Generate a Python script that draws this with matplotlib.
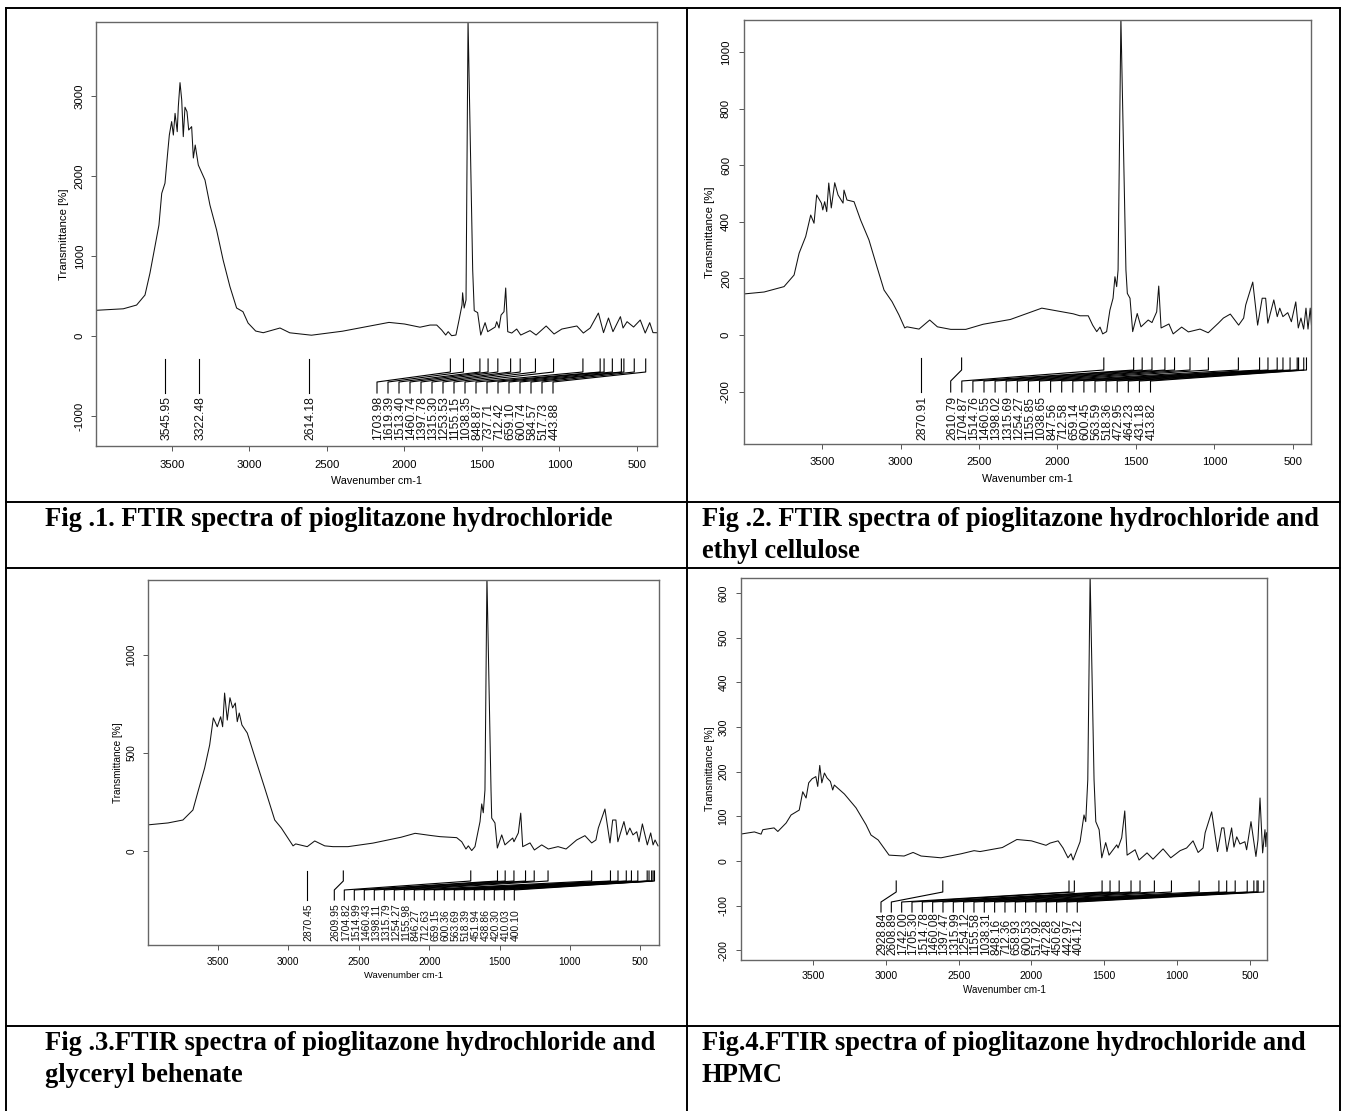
import matplotlib
matplotlib.use('Agg')
import matplotlib.pyplot as plt
from matplotlib.lines import Line2D

W, H = 1345, 1111

# spectra: wavenumber, transmittance
wave1 = [4000,3814,3728,3674,3642,3610,3584,3566,3545,3528,3517,3502,3491,3480,3466,3459,3448,3437,3427,3416,3403,3392,3373,3362,3350,3330,3287,3255,3212,3170,3126,3083,3042,3009,2960,2911,2803,2740,2600,2400,2100,2000,1900,1835,1792,1760,1734,1718,1696,1668,1648,1629,1625,1615,1603,1590,1560,1550,1528,1508,1480,1463,1415,1405,1390,1377,1358,1347,1334,1308,1276,1250,1190,1151,1086,1035,985,888,846,802,749,716,684,655,607,590,564,522,479,447,418,397,372]
trans1 = [320,340,387,512,785,1116,1387,1783,1910,2283,2512,2680,2512,2783,2554,2867,3167,2950,2492,2860,2804,2575,2617,2225,2387,2137,1950,1637,1325,950,617,350,304,162,62,41,100,40,10,60,170,150,110,137,137,75,12,54,4,12,200,387,540,350,450,3950,825,317,292,12,167,54,112,179,100,262,304,600,54,37,87,12,67,12,125,25,87,125,37,100,287,42,225,54,242,100,179,112,200,37,167,42,41]

wave2 = [4000,3869,3742,3678,3646,3604,3572,3551,3534,3504,3495,3483,3470,3457,3441,3419,3398,3366,3360,3341,3296,3254,3201,3150,3105,3054,3010,2973,2959,2882,2814,2765,2680,2584,2474,2300,2100,2000,1900,1857,1804,1776,1750,1729,1712,1687,1666,1646,1634,1623,1614,1596,1564,1555,1538,1521,1492,1468,1422,1398,1368,1355,1340,1315,1290,1263,1209,1166,1092,1040,975,943,899,846,814,801,756,725,696,674,660,622,600,584,564,533,510,482,466,449,432,417,404,390,379]
trans2 = [145,152,171,212,289,348,424,395,495,466,442,471,436,537,449,538,495,466,512,477,471,406,336,241,159,118,71,25,29,21,53,29,20,20,38,55,95,85,75,68,68,35,12,28,4,12,88,130,206,171,230,1120,230,147,130,12,76,29,53,44,82,173,25,32,39,4,28,11,21,8,42,60,74,35,60,106,187,35,130,130,42,124,65,95,65,79,47,117,25,60,21,95,21,95,12]

wave3 = [4000,3855,3749,3678,3642,3595,3559,3533,3505,3481,3467,3453,3434,3415,3396,3377,3363,3349,3330,3292,3239,3168,3097,3050,2967,2948,2866,2813,2742,2683,2577,2400,2200,2100,2000,1923,1805,1769,1739,1722,1698,1675,1639,1627,1616,1604,1590,1561,1556,1533,1516,1485,1462,1407,1398,1367,1350,1336,1284,1253,1201,1154,1085,1028,953,894,846,816,799,752,716,697,674,660,617,596,575,553,526,510,486,451,427,410,396,375]
trans3 = [133,143,158,209,303,423,541,679,634,685,634,806,668,782,730,755,660,704,643,602,481,321,158,117,26,36,22,51,26,22,22,40,70,90,80,73,68,47,10,26,2,22,150,240,195,311,1400,311,168,143,15,82,31,66,47,92,193,22,41,5,31,10,22,10,56,78,41,56,117,214,41,158,158,47,150,82,117,82,98,47,138,31,92,31,56,26]

wave4 = [4000,3903,3857,3845,3768,3742,3685,3651,3595,3571,3548,3530,3507,3481,3468,3454,3440,3422,3404,3381,3365,3354,3285,3205,3136,3102,3053,2978,2875,2813,2758,2621,2483,2394,2353,2200,2100,2000,1900,1872,1817,1783,1749,1728,1714,1666,1639,1627,1613,1597,1570,1558,1535,1517,1490,1467,1414,1405,1380,1359,1343,1288,1261,1206,1165,1096,1043,979,934,890,855,821,807,762,722,693,678,657,625,609,590,568,534,522,492,458,444,430,412,396,390,385]
trans4 = [60,65,60,70,74,66,85,103,114,155,141,175,184,189,167,214,175,197,186,178,159,170,150,119,81,58,47,13,11,19,11,7,16,23,21,30,48,45,35,40,45,29,7,16,2,43,103,88,182,640,182,88,70,7,41,13,36,29,52,112,13,25,2,18,4,27,7,23,29,45,19,29,63,110,21,74,74,21,74,31,54,38,43,25,88,10,47,141,18,70,32,63]

# peak picks, in the order they are labelled
singles1 = [3545.95, 3322.48, 2614.18]
peaks1 = [1703.98,1619.39,1513.40,1460.74,1397.78,1315.30,1253.53,1155.15,1038.35,848.87,737.71,712.42,659.10,600.74,584.57,517.73,443.88]
labels1 = ['1703.98','1619.39','1513.40','1460.74','1397.78','1315.30','1253.53','1155.15','1038.35','848.87','737.71','712.42','659.10','600.74','584.57','517.73','443.88']

singles2 = [2870.91]
peaks2 = [2610.79,1704.87,1514.76,1460.55,1398.02,1315.69,1254.27,1155.85,1038.65,847.56,712.58,659.14,600.45,563.59,518.36,472.95,464.23,431.18,413.82]
labels2 = ['2610.79','1704.87','1514.76','1460.55','1398.02','1315.69','1254.27','1155.85','1038.65','847.56','712.58','659.14','600.45','563.59','518.36','472.95','464.23','431.18','413.82']

singles3 = [2870.45]
peaks3 = [2609.95,1704.82,1514.99,1460.43,1398.11,1315.79,1254.27,1155.98,846.27,712.63,659.15,600.36,563.69,518.39,451.94,438.86,420.30,410.03,400.10]
labels3 = ['2609.95','1704.82','1514.99','1460.43','1398.11','1315.79','1254.27','1155.98','846.27','712.63','659.15','600.36','563.69','518.39','451.94','438.86','420.30','410.03','400.10']

singles4 = []
peaks4 = [2928.84,2608.89,1742.00,1705.30,1514.78,1460.08,1397.47,1315.99,1254.12,1155.58,1038.31,848.16,712.36,658.93,600.53,517.92,472.28,450.62,442.97,404.12]
labels4 = ['2928.84','2608.89','1742.00','1705.30','1514.78','1460.08','1397.47','1315.99','1254.12','1155.58','1038.31','848.16','712.36','658.93','600.53','517.92','472.28','450.62','442.97','404.12']

xticks = [3500,3000,2500,2000,1500,1000,500]
yticks1 = [-1000,0,1000,2000,3000]
yticks2 = [-200,0,200,400,600,800,1000]
yticks3 = [0,500,1000]
yticks4 = [-200,-100,0,100,200,300,400,500,600]

caption1 = ['Fig .1. FTIR spectra of pioglitazone hydrochloride']
caption2 = ['Fig .2. FTIR spectra of pioglitazone hydrochloride and', 'ethyl cellulose']
caption3 = ['Fig .3.FTIR spectra of pioglitazone hydrochloride and', 'glyceryl behenate']
caption4 = ['Fig.4.FTIR spectra of pioglitazone hydrochloride and', 'HPMC']

plt.rcParams['font.family'] = ['Liberation Sans', 'DejaVu Sans']
plt.rcParams['axes.unicode_minus'] = False
fig = plt.figure(figsize=(W / 100, H / 100), dpi=100, facecolor='white')


def fx(px):
    return px / W


def fy(py):
    return 1 - py / H


def panel(box, xlim, ylim, wave, trans, yticks, singles, peaks, labels, first, step, ys, fs, label_fs, ylab_x, tick_pad, xlab_y):
    # box and ys are pixel rows/cols of the page
    left, top, right, bottom = box
    ax = fig.add_axes([fx(left), fy(bottom), fx(right - left), (bottom - top) / H])
    ax.plot(wave, trans, color='#111111', lw=0.75)
    ax.set_xlim(*xlim)
    ax.set_ylim(*ylim)
    ax.set_xticks(xticks)
    ax.set_yticks(yticks)
    ax.tick_params(axis='x', length=3.6, width=0.7, color='#555555', labelsize=fs, pad=tick_pad[0])
    ax.tick_params(axis='y', length=3.6, width=0.7, color='#555555', labelsize=fs, pad=tick_pad[1])
    for t in ax.get_yticklabels():
        t.set_rotation(90)
        t.set_va('center')
    for s in ax.spines.values():
        s.set_color('#666666')
        s.set_linewidth(1.0)

    # stick marks for the peak picks, pixel rows turned to data values
    to_y = lambda py: ylim[1] - (py - top) / (bottom - top) * (ylim[1] - ylim[0])
    y_top, y_k1, y_k2, y_low, y_txt = [to_y(v) for v in ys]
    px_to_w = (xlim[0] - xlim[1]) / (right - left)
    nudge = 1.5 * px_to_w
    for w in singles:
        ax.plot([w, w], [y_top, y_low], color='black', lw=0.8)
        ax.text(w - nudge, y_txt, f'{w:.2f}', rotation=90, ha='center', va='bottom', fontsize=label_fs, color='#111111')
    for i, w in enumerate(peaks):
        lx = xlim[0] - (first + i * step - left) * px_to_w
        ax.plot([w, w, lx, lx], [y_top, y_k1, y_k2, y_low], color='black', lw=0.8)
        ax.text(lx - nudge, y_txt, labels[i], rotation=90, ha='center', va='bottom', fontsize=label_fs, color='#111111')

    fig.text(fx((left + right) / 2 + xlab_y[1]), fy(xlab_y[0]), 'Wavenumber cm-1', ha='center', va='center', fontsize=fs * 0.94)
    fig.text(fx(ylab_x), fy((top + bottom) / 2), 'Transmittance [%]', rotation=90, ha='center', va='center', fontsize=fs)
    return ax


panel((96, 22, 657, 446), (3990, 371), (-1375, 3925), wave1, trans1, yticks1,
      singles1, peaks1, labels1, 377, 11.0, (359, 372, 382, 393, 440.5), 8.2, 8.8, 64, (6.5, 4.6), (481, 0))
panel((744, 20, 1311, 444), (3997, 385), (-385, 1113), wave2, trans2, yticks2,
      singles2, peaks2, labels2, 950.7, 11.1, (358, 370, 381, 392, 439.5), 8.2, 8.8, 710, (6, 5.8), (479, 0))
panel((148, 580, 659, 945), (3997, 368), (-480, 1383), wave3, trans3, yticks3,
      singles3, peaks3, labels3, 334.3, 10.0, (871, 881, 890, 900, 941), 7.2, 7.5, 118, (5, 4.6), (975, 0))
panel((741, 578, 1267, 960), (3995, 382), (-222, 634), wave4, trans4, yticks4,
      singles4, peaks4, labels4, 881, 10.33, (881, 892, 902, 912, 955), 7.6, 8.5, 710, (4.5, 5.3), (990, 0))

# table rules of the page
rules = [((6, 1340), (8, 8)), ((6, 1340), (502, 502)), ((6, 1340), (568, 568)), ((6, 1340), (1026, 1026)),
         ((6, 6), (8, 1111)), ((1340, 1340), (8, 1111)), ((687, 687), (8, 1111))]
for xs, ys in rules:
    fig.add_artist(Line2D([fx(v) for v in xs], [fy(v) for v in ys], color='black', lw=1.4))

for x0, y0, lines in [(45, 520, caption1), (702, 520, caption2), (45, 1044, caption3), (702, 1044, caption4)]:
    for k, line in enumerate(lines):
        fig.text(fx(x0), fy(y0 + k * 31), line, family='Liberation Serif', fontweight='bold', fontsize=19.1,
                 ha='left', va='center', color='black')

fig.savefig('out.png', dpi=100, facecolor='white')
